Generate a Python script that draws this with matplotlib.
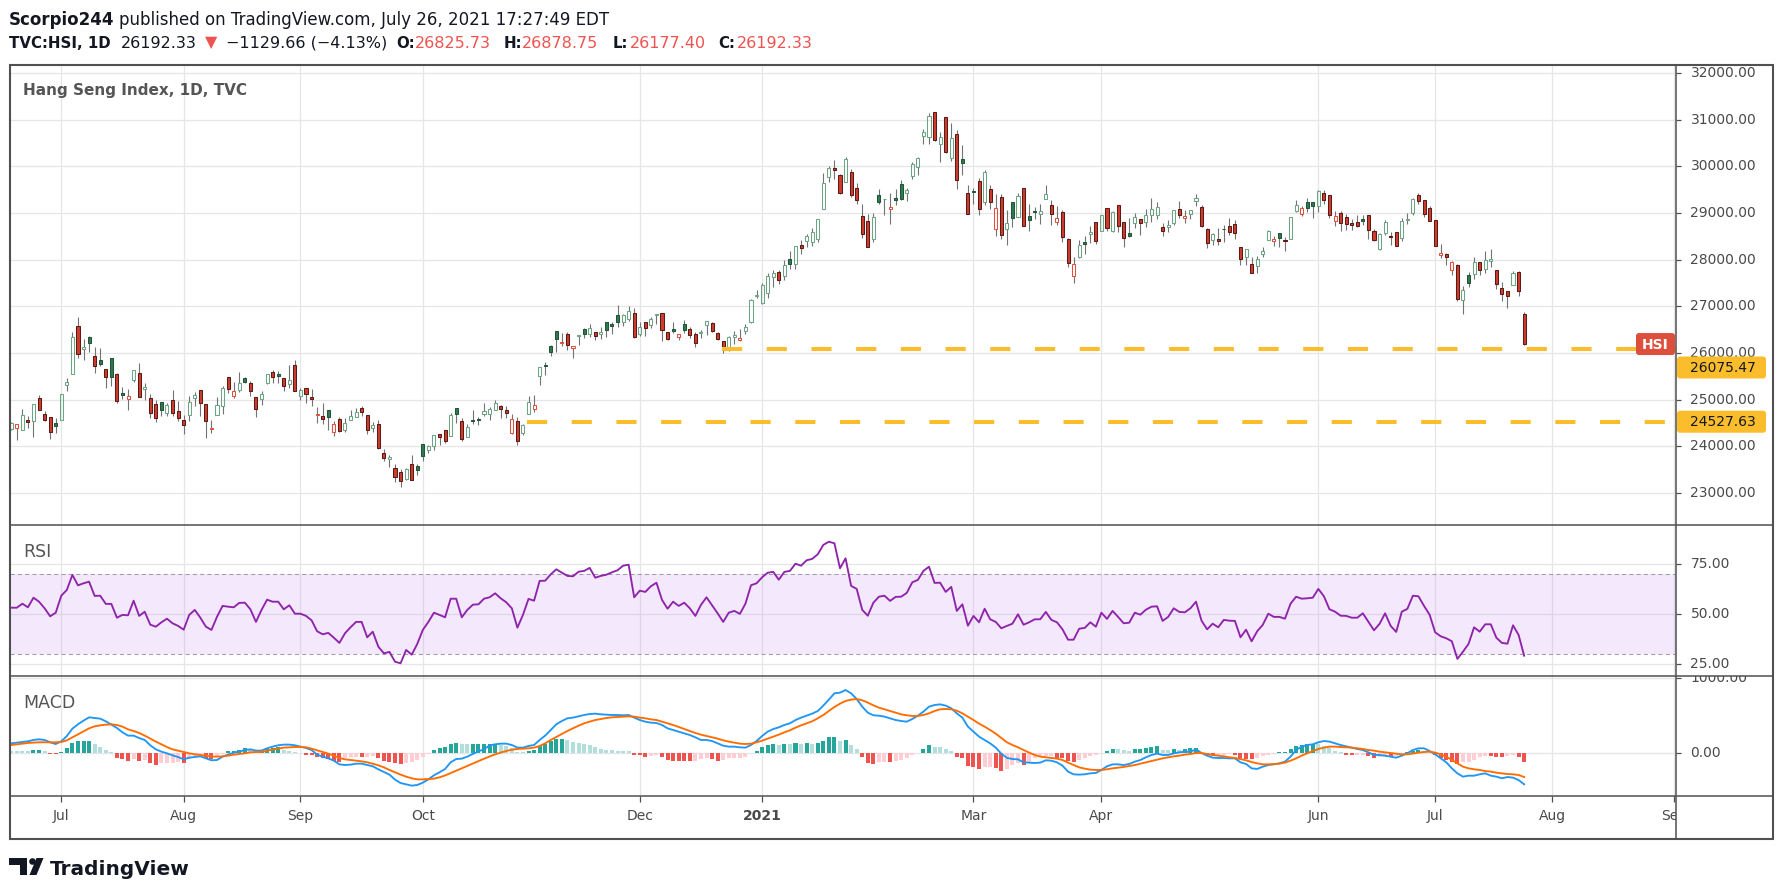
import matplotlib
matplotlib.use('Agg')
import matplotlib.pyplot as plt
import numpy as np
from matplotlib.patches import FancyBboxPatch, Polygon, Circle, Rectangle

plt.rcParams['font.family'] = ['DejaVu Sans']

# ---- daily candles, Hang Seng Index ----
open_ = [24380, 24394, 24359, 24558, 24544, 25040, 24700, 24636, 24494, 24572,
         25310, 25545, 26574, 26077, 26347, 25935, 25850, 25658, 25892, 25552,
         25147, 25019, 25417, 25573, 25225, 25040, 24913, 24955, 24721, 24998,
         24764, 24572, 24678, 25040, 25211, 24913, 24380, 24678, 24870, 25488,
         25083, 25204, 25466, 25360, 25062, 25019, 25353, 25594, 25540, 25466,
         25339, 25743, 25083, 25253, 25048, 24680, 24643, 24785, 24316, 24593,
         24359, 24572, 24636, 24828, 24678, 24402, 24487, 23848, 23720, 23542,
         23443, 23308, 23613, 23571, 24061, 23912, 24011, 24274, 24359, 24224,
         24827, 24551, 24210, 24572, 24593, 24693, 24700, 24785, 24856, 24785,
         24288, 24551, 24288, 24700, 24806, 25502, 25743, 26148, 26468, 26220,
         26404, 26098, 26361, 26510, 26418, 26446, 26397, 26659, 26617, 26808,
         26673, 26737, 26851, 26418, 26659, 26610, 26808, 26851, 26446, 26510,
         26340, 26617, 26510, 26404, 26432, 26595, 26638, 26425, 26255, 26063,
         26333, 26269, 26482, 26659, 27223, 27071, 27280, 27620, 27734, 27642,
         28018, 27897, 28309, 28408, 28387, 28451, 29090, 29772, 29956, 29807,
         29665, 29885, 29545, 28934, 28827, 28451, 29381, 29296, 29090, 29317,
         29630, 29431, 29793, 29992, 30645, 30624, 31163, 30468, 31057, 30176,
         30695, 30162, 29424, 29470, 29694, 29239, 29523, 28664, 29353, 28664,
         29246, 28905, 29545, 28927, 29040, 28984, 29310, 29168, 28799, 29019,
         28437, 27642, 28053, 28380, 28558, 28806, 28607, 29097, 28607, 29161,
         28799, 28565, 28792, 28880, 28808, 28959, 28959, 28708, 28700, 28787,
         29095, 28890, 28980, 29261, 29138, 28665, 28420, 28435, 28660, 28729,
         28772, 28277, 28054, 27911, 27860, 28119, 28420, 28399, 28578, 28420,
         28442, 29038, 28973, 29225, 29225, 29153, 29418, 29375, 28830, 28995,
         28909, 28779, 28801, 28865, 28952, 28607, 28227, 28571, 28500, 28586,
         28463, 28851, 29002, 29375, 29289, 29117, 28858, 28097, 28126, 27774,
         27896, 27128, 27674, 27688, 27954, 27796, 27975, 27781, 27401, 27329,
         27451, 27738, 26825.73]
high = [24520, 24487, 24792, 24643, 24913, 25090, 24764, 24636, 24615, 25126,
        25466, 26453, 26773, 26297, 26368, 26127, 26113, 25658, 25892, 25573,
        25282, 25239, 25637, 25793, 25367, 25112, 24984, 24955, 24920, 25218,
        24962, 24664, 25076, 25161, 25211, 24913, 24558, 25055, 25289, 25488,
        25381, 25601, 25481, 25396, 25062, 25190, 25552, 25630, 25623, 25466,
        25751, 25857, 25260, 25253, 25239, 24835, 24920, 24785, 24536, 24636,
        24600, 24771, 24828, 24856, 24678, 24515, 24558, 23940, 23812, 23613,
        23507, 23542, 23812, 23613, 24061, 24025, 24252, 24274, 24359, 24721,
        24827, 24607, 24472, 24785, 24624, 24920, 24842, 24984, 24891, 24856,
        24700, 24621, 24487, 25069, 25111, 25701, 25814, 26169, 26468, 26432,
        26453, 26148, 26382, 26546, 26624, 26460, 26553, 26659, 26659, 27028,
        26830, 27007, 26964, 26666, 26659, 26766, 26830, 26851, 26446, 26659,
        26404, 26709, 26553, 26446, 26489, 26695, 26659, 26460, 26255, 26354,
        26468, 26510, 26631, 27149, 27358, 27510, 27710, 27784, 27784, 27983,
        28196, 28302, 28430, 28550, 28678, 28863, 29850, 29999, 30127, 29843,
        30191, 29949, 29637, 29189, 28976, 28998, 29509, 29310, 29424, 29509,
        29701, 29530, 30084, 30191, 30794, 31149, 31163, 30730, 31057, 30936,
        30787, 30453, 29594, 29544, 29757, 29914, 29608, 29410, 29403, 29062,
        29246, 29424, 29545, 29189, 29126, 29189, 29594, 29275, 29140, 29069,
        28465, 28061, 28423, 28508, 28727, 28806, 28948, 29097, 29040, 29161,
        28806, 28891, 28998, 28880, 29081, 29318, 29239, 28779, 28851, 29074,
        29253, 29059, 29074, 29404, 29167, 28686, 28578, 28686, 28751, 28887,
        28844, 28277, 28234, 28061, 28069, 28277, 28643, 28514, 28578, 28492,
        28923, 29275, 29160, 29332, 29239, 29483, 29490, 29375, 29038, 29038,
        28988, 28865, 28952, 28952, 28952, 28650, 28578, 28844, 28586, 28586,
        28901, 29002, 29325, 29418, 29289, 29153, 28858, 28341, 28148, 27982,
        27911, 27444, 27746, 28047, 27954, 28176, 28219, 27781, 27523, 27329,
        27760, 27760, 26878.75]
low = [24350, 24139, 24352, 24394, 24203, 24778, 24544, 24160, 24288, 24572,
       25182, 25545, 25900, 25843, 26013, 25566, 25715, 25247, 25289, 24920,
       25005, 24778, 25374, 25062, 24991, 24607, 24522, 24650, 24643, 24643,
       24544, 24267, 24544, 24856, 24650, 24181, 24288, 24678, 24693, 25140,
       25033, 25161, 25367, 25069, 24629, 24884, 25339, 25360, 25367, 25182,
       25253, 25190, 24991, 24927, 24863, 24501, 24480, 24352, 24224, 24316,
       24309, 24572, 24636, 24657, 24274, 24309, 23947, 23691, 23564, 23244,
       23138, 23273, 23273, 23393, 23691, 23862, 23926, 24032, 24075, 24224,
       24508, 24117, 24210, 24487, 24458, 24650, 24565, 24785, 24614, 24607,
       24259, 24032, 24238, 24700, 24735, 25325, 25537, 25942, 26027, 26155,
       26056, 25900, 26176, 26326, 26333, 26283, 26304, 26347, 26397, 26567,
       26588, 26695, 26318, 26354, 26375, 26546, 26624, 26247, 26269, 26432,
       26269, 26439, 26311, 26120, 26311, 26382, 26460, 26269, 25992, 26049,
       26198, 26247, 26418, 26645, 27180, 27050, 27170, 27414, 27471, 27556,
       27791, 27791, 28132, 28281, 28295, 28387, 29090, 29665, 29729, 29417,
       29665, 29346, 29197, 28472, 28266, 28387, 29189, 28962, 28764, 29168,
       29289, 29261, 29729, 29807, 30468, 30468, 30553, 30091, 30290, 30119,
       29516, 29814, 28984, 29189, 28962, 29175, 29090, 28508, 28437, 28323,
       28707, 28905, 28714, 28622, 28877, 28771, 29310, 28735, 28735, 28387,
       27848, 27507, 28039, 28132, 28366, 28345, 28607, 28614, 28593, 28600,
       28281, 28479, 28678, 28528, 28700, 28808, 28873, 28507, 28593, 28744,
       28887, 28787, 28873, 29153, 28708, 28248, 28313, 28313, 28377, 28528,
       28442, 27896, 27882, 27710, 27710, 28054, 28413, 28284, 28262, 28184,
       28442, 29024, 28937, 29024, 28894, 29024, 29196, 28902, 28722, 28614,
       28643, 28643, 28708, 28751, 28442, 28399, 28205, 28528, 28313, 28291,
       28399, 28765, 28959, 29189, 28916, 28830, 28291, 28026, 27896, 27681,
       27106, 26841, 27408, 27595, 27681, 27724, 27853, 27379, 27106, 26956,
       27451, 27214, 26177.40]
close = [24490, 24470, 24664, 24522, 24913, 24778, 24572, 24309, 24437, 25126,
         25381, 26340, 25970, 26127, 26205, 25722, 25758, 25481, 25488, 24969,
         25097, 25069, 25637, 25062, 25282, 24721, 24615, 24785, 24891, 24721,
         24615, 24465, 24955, 25104, 24934, 24551, 24400, 24891, 25253, 25232,
         25190, 25360, 25381, 25190, 24806, 25126, 25552, 25488, 25500, 25289,
         25424, 25190, 25200, 25126, 25019, 24700, 24593, 24636, 24487, 24330,
         24508, 24657, 24742, 24730, 24359, 24465, 23961, 23741, 23762, 23337,
         23251, 23507, 23287, 23486, 23784, 23997, 24252, 24203, 24125, 24671,
         24690, 24160, 24408, 24544, 24565, 24764, 24806, 24934, 24806, 24721,
         24593, 24125, 24465, 24955, 24891, 25701, 25715, 26013, 26290, 26235,
         26169, 26148, 26382, 26397, 26531, 26361, 26453, 26489, 26574, 26659,
         26808, 26894, 26333, 26553, 26531, 26723, 26830, 26503, 26290, 26482,
         26404, 26503, 26382, 26205, 26453, 26680, 26482, 26290, 26127, 26340,
         26382, 26319, 26553, 27128, 27251, 27465, 27660, 27720, 27556, 27890,
         27911, 28288, 28245, 28508, 28593, 28863, 29637, 29956, 29921, 29431,
         30148, 29388, 29289, 28558, 28281, 28905, 29239, 29310, 29126, 29281,
         29303, 29488, 30041, 30169, 30737, 31078, 30574, 30638, 30304, 30610,
         29708, 30070, 28984, 29458, 29090, 29871, 29246, 29104, 28536, 28785,
         28898, 29374, 28728, 28841, 29030, 29040, 29403, 28984, 28891, 28494,
         27919, 27911, 28320, 28340, 28593, 28394, 28948, 28671, 29019, 28714,
         28458, 28501, 28905, 28787, 28966, 29095, 29138, 28614, 28751, 29074,
         28960, 28945, 29074, 29311, 28722, 28356, 28557, 28399, 28650, 28593,
         28580, 28011, 28234, 27710, 28025, 28191, 28607, 28449, 28460, 28410,
         28909, 29167, 29100, 29115, 29153, 29462, 29282, 28959, 28930, 28787,
         28765, 28744, 28722, 28830, 28636, 28420, 28557, 28801, 28490, 28291,
         28823, 28880, 29297, 29261, 28980, 28830, 28291, 28148, 28054, 27954,
         27150, 27351, 27494, 27954, 27774, 27990, 28010, 27473, 27258, 27214,
         27724, 27321.99, 26192.33]

# ---- RSI (14) ----
rsi = [53.3, 53.3, 55.3, 53.5, 58.3, 56.3, 53.0, 49.0, 50.8, 59.3,
       62.2, 69.7, 64.5, 65.5, 66.3, 59.2, 59.3, 55.2, 55.2, 48.3,
       49.7, 49.5, 56.8, 49.2, 51.3, 44.8, 43.8, 46.0, 47.8, 45.5,
       44.2, 42.3, 49.7, 52.2, 48.3, 43.8, 42.2, 48.8, 54.2, 53.8,
       53.5, 55.7, 55.8, 52.5, 46.2, 52.2, 57.3, 56.3, 56.3, 52.5,
       54.5, 50.3, 50.3, 49.2, 47.0, 41.5, 40.0, 40.7, 38.3, 35.7,
       40.5, 43.5, 46.2, 46.2, 38.5, 41.3, 33.8, 30.5, 31.2, 26.3,
       25.5, 32.2, 29.8, 35.2, 42.2, 46.2, 50.8, 49.7, 48.5, 57.8,
       57.8, 48.5, 52.2, 54.8, 55.0, 57.8, 58.5, 60.5, 58.0,
       56.0, 53.0, 43.3, 49.7, 57.7, 56.8, 66.7, 66.8, 70.0, 72.5,
       70.8, 69.2, 69.0, 71.3, 71.7, 73.2, 68.3, 69.2, 69.8, 71.0,
       72.0, 74.3, 74.8, 58.5, 61.8, 61.2, 64.0, 65.8, 57.2, 52.8,
       56.3, 54.2, 55.8, 53.0, 49.2, 54.7, 58.5, 54.5, 50.5, 46.2,
       50.8, 51.7, 50.2, 55.3, 64.5, 65.5, 68.5, 70.8, 71.2, 67.3,
       71.2, 71.7, 75.3, 74.3, 77.0, 77.7, 80.0, 84.7, 86.3, 85.5,
       73.0, 78.0, 64.2, 62.7, 52.2, 49.3, 55.8, 58.8, 59.3, 56.7,
       58.7, 58.8, 60.7, 66.0, 67.2, 71.7, 73.8, 65.7, 65.8, 61.2,
       63.7, 51.7, 55.0, 44.3, 49.2, 46.0, 52.8, 47.5, 46.2,
       43.0, 44.2, 45.3, 50.0, 44.8, 46.0, 47.5, 47.5, 51.2, 47.2,
       46.0, 42.5, 37.3, 37.3, 42.8, 43.2, 46.0, 43.8, 50.8, 47.7,
       51.7, 48.7, 45.5, 45.8, 50.8, 49.8, 52.3, 53.8, 54.0, 46.7,
       48.7, 53.0, 51.2, 51.0, 53.0, 56.3, 46.8, 42.5, 45.3, 43.5,
       47.2, 46.8, 46.7, 38.5, 42.3, 36.5, 41.5, 44.7, 50.3, 48.7,
       48.7, 47.8, 55.3, 58.8, 57.8, 58.0, 58.3, 62.7, 59.0, 52.5,
       51.3, 49.3, 49.2, 48.3, 48.3, 50.5, 46.3, 42.0, 45.2, 50.5,
       44.2, 41.2, 51.3, 52.7, 59.3, 59.0, 54.2, 49.8, 41.0, 39.0,
       38.0, 36.5, 27.7, 31.3, 35.2, 43.5, 41.3, 45.0, 45.0, 38.3,
       35.7, 35.3, 44.5, 39.7, 29.3]

# ---- MACD (12, 26, 9) ----
macd = [133, 142, 151, 160, 178, 187, 178, 147, 124, 160,
        231, 329, 387, 436, 480, 471, 462, 427, 382, 338,
        280, 236, 236, 204, 178, 107, 53, 22, 0, -27,
        -49, -80, -58, -49, -40, -67, -93, -89, -44, -18,
        9, 22, 44, 53, 36, 36, 67, 89, 107, 116,
        116, 107, 89, 71, 44, -18, -44, -67, -98, -147,
        -156, -151, -138, -138, -156, -173, -213, -249, -284, -351,
        -396, -413, -431, -422, -391, -347, -293, -253, -209, -120,
        -76, -71, -44, -9, 27, 53, 105, 120, 129,
        129, 111, 76, 76, 98, 111, 178, 236, 311, 387,
        431, 467, 476, 493, 511, 524, 529, 520, 516, 511,
        511, 507, 511, 476, 444, 422, 409, 404, 378, 333,
        311, 289, 267, 244, 213, 178, 178, 164, 133, 102,
        89, 89, 80, 76, 111, 164, 231, 289, 324, 347,
        378, 400, 444, 476, 502, 529, 564, 636, 716, 800,
        809, 844, 800, 724, 622, 542, 507, 502, 489, 467,
        444, 431, 422, 458, 502, 556, 622, 644, 653, 636,
        600, 533, 476, 356, 289, 222, 178, 133, 76,
        -5, -60, -76, -80, -120, -124, -129, -124, -93, -98,
        -120, -164, -244, -280, -284, -280, -267, -262, -222, -173,
        -147, -147, -156, -142, -111, -89, -53, -22, -4, -22,
        -22, 0, 13, 22, 22, 53, 4, -31, -58, -62,
        -62, -67, -67, -120, -142, -200, -209, -178, -156, -147,
        -133, -111, -44, 44, 89, 111, 120, 147, 164, 156,
        133, 111, 93, 76, 58, 44, 13, -22, -22, -31,
        -44, -58, -31, 0, 44, 67, 67, 31, -13, -67,
        -120, -200, -267, -311, -298, -298, -280, -267, -298, -311,
        -333, -316, -324, -356, -413]
signal = [111, 120, 129, 138, 142, 147, 147, 147, 147, 151,
          173, 213, 253, 293, 333, 360, 373, 382, 387, 378,
          356, 320, 298, 271, 236, 196, 156, 120, 84, 53,
          36, 18, 0, -13, -22, -31, -44, -44, -40, -31,
          -18, -9, 0, 13, 18, 18, 36, 49, 62, 76,
          80, 84, 84, 80, 62, 40, 18, -4, -31, -62,
          -80, -89, -98, -107, -120, -138, -160, -187, -222, -253,
          -284, -311, -333, -347, -347, -342, -338, -320, -295, -264,
          -232, -200, -168, -135, -103, -72, -42, -14, 10,
          31, 49, 58, 62, 67, 76, 98, 133, 178, 218,
          258, 298, 333, 369, 400, 422, 444, 458, 471, 480,
          484, 489, 493, 489, 476, 467, 453, 444, 422, 400,
          378, 351, 324, 298, 271, 249, 231, 213, 196, 173,
          156, 142, 129, 124, 129, 147, 169, 196, 222, 249,
          280, 307, 342, 373, 400, 427, 467, 511, 564, 618,
          662, 698, 716, 724, 707, 676, 640, 609, 587, 564,
          542, 520, 507, 498, 498, 511, 533, 564, 587, 591,
          587, 569, 533, 489, 444, 396, 356, 311, 262,
          205, 147, 111, 80, 44, 9, -22, -44, -53, -62,
          -71, -89, -124, -156, -187, -204, -218, -222, -222, -213,
          -200, -191, -182, -169, -156, -138, -120, -102, -84, -67,
          -53, -40, -31, -18, -9, 4, 4, -9, -22, -31,
          -40, -53, -62, -76, -93, -116, -133, -147, -147, -142,
          -138, -124, -98, -67, -31, 0, 31, 58, 76, 89,
          89, 84, 80, 76, 67, 58, 44, 36, 22, 13,
          4, -4, -13, -13, -4, 9, 18, 22, 9, -13,
          -44, -89, -133, -178, -200, -213, -222, -236, -244, -258,
          -267, -276, -280, -289, -316]
hist = [31, 30, 29, 28, 44, 46, 27, -9, -13, 13,
        67, 142, 160, 164, 166, 120, 89, 44, 18, -58,
        -80, -98, -76, -98, -93, -133, -156, -133, -131, -129,
        -120, -128, -76, -44, -31, -67, -76, -44, -9, 27,
        36, 49, 67, 44, 27, 36, 53, 67, 80, 44,
        36, 18, 4, -18, -22, -44, -67, -76, -102, -111,
        -67, -53, -44, -55, -48, -40, -67, -98, -116, -133,
        -142, -133, -111, -89, -44, -5, 50, 67, 80, 120,
        142, 120, 118, 120, 121, 122, 124, 126, 111, 98,
        67, 22, 18, 31, 44, 102, 129, 164, 187, 191,
        178, 147, 133, 124, 111, 84, 58, 44, 40, 31,
        30, 29, -18, -22, -53, -31, -22, -53, -89, -98,
        -100, -102, -104, -100, -70, -68, -75, -98, -90, -67,
        -66, -64, -45, 9, 36, 84, 111, 124, 111, 124,
        120, 138, 124, 133, 124, 138, 169, 218, 220, 164,
        178, 111, 58, -44, -124, -138, -120, -118, -122, -102,
        -89, -67, -22, 4, 58, 111, 89, 88, 58, 31,
        -44, -67, -164, -178, -213, -187, -186, -190,
        -231, -213, -156, -133, -156, -120, -67, -53, -31, -30,
        -58, -67, -102, -111, -93, -58, -31, -22, 9, 27,
        58, 53, 40, 31, 58, 60, 76, 89, 98, 49,
        40, 58, 44, 58, 67, 76, -4, -22, -40, -36,
        -22, -13, -27, -67, -71, -80, -67, -40, -22, -4,
        13, 22, 58, 102, 111, 120, 129, 124, 98, 67,
        31, 18, -18, -22, -21, -20, -40, -58, -53, -44,
        -49, -40, -13, 22, 36, 44, 31, 9, -22, -58,
        -89, -120, -142, -120, -118, -89, -53, -31, -33, -53,
        -55, -31, -22, -53, -111]

# time axis (bar index of first session of the month)
month_pos = [9, 31, 52, 74, 113, 135, 173, 196, 235, 256, 277, 299]
month_lbl = ['Jul', 'Aug', 'Sep', 'Oct', 'Dec', '2021', 'Mar', 'Apr', 'Jun', 'Jul', 'Aug', 'Sep']

# horizontal support levels and the bar where each drawing starts
levels = [26075.47, 24527.63]
level_start = [127.7, 92.8]

price_ticks = [23000, 24000, 25000, 26000, 27000, 28000, 29000, 30000, 31000, 32000]
rsi_ticks = [25, 50, 75]
macd_ticks = [0, 1000]

W, H = 1783, 894
GRID = '#e6e6e6'
FRAME = '#505050'
TXT = '#4a4a4a'
DARK = '#131722'
RED = '#ef5350'
YEL = '#fbbd2c'

o = np.array(open_, float)
hi = np.array(high, float)
lo = np.array(low, float)
c = np.array(close, float)
x = np.arange(len(c))
XLIM = (-0.22, 299.3)

fig = plt.figure(figsize=(W / 100, H / 100), dpi=100)
fig.patch.set_facecolor('white')


def box(x0, y0, x1, y1):
    return [x0 / W, 1 - y1 / H, (x1 - x0) / W, (y1 - y0) / H]


ax = fig.add_axes(box(10, 65, 1676, 525))
ax_rsi = fig.add_axes(box(10, 525, 1676, 676))
ax_macd = fig.add_axes(box(10, 676, 1676, 796))
ax_time = fig.add_axes(box(10, 796, 1676, 839))
sc_main = fig.add_axes(box(1676, 65, 1773, 525))
sc_rsi = fig.add_axes(box(1676, 525, 1773, 676))
sc_macd = fig.add_axes(box(1676, 676, 1773, 796))

for a in (ax, ax_rsi, ax_macd, ax_time):
    a.set_xlim(*XLIM)
    a.set_axis_off()
ax.set_ylim(22315, 32171)
ax_rsi.set_ylim(19.15, 94.65)
ax_macd.set_ylim(-569, 1031)
ax_time.set_ylim(43, 0)

# grid
for a in (ax, ax_rsi, ax_macd):
    for t in month_pos:
        a.axvline(t, color=GRID, lw=0.9, zorder=0)
for v in price_ticks:
    ax.axhline(v, color=GRID, lw=0.9, zorder=0)
for v in rsi_ticks:
    ax_rsi.axhline(v, color=GRID, lw=0.9, zorder=0)
for v in macd_ticks:
    ax_macd.axhline(v, color=GRID, lw=0.9, zorder=0)

# hollow candles: filled when close < open, colour by change vs previous close
prev = np.concatenate([[c[0]], c[:-1]])
up = c >= prev
filled = c < o
face = []
edge = []
for u, f in zip(up, filled):
    if u:
        face.append('#2f7a52' if f else 'none')
        edge.append('#225437' if f else '#6ba583')
    else:
        face.append('#cc3d2f' if f else 'none')
        edge.append('#5b1a13' if f else '#e0503c')
top = np.maximum(o, c)
bot = np.minimum(o, c)
ax.vlines(x, top, hi, color='#737375', lw=0.8, zorder=2)
ax.vlines(x, lo, bot, color='#737375', lw=0.8, zorder=2)
ax.bar(x, top - bot, bottom=bot, width=0.55, color=face, edgecolor=edge,
       linewidth=0.75, zorder=3)

# support lines
for lvl, s in zip(levels, level_start):
    ax.plot([s, XLIM[1]], [lvl, lvl], color=YEL, lw=2.9, ls=(0, (5, 6.1)),
            solid_capstyle='butt', zorder=4)

# RSI
ax_rsi.axhspan(30, 70, color='#b868f5', alpha=0.15, lw=0, zorder=1)
for v in (30, 70):
    ax_rsi.axhline(v, color='#a39aab', lw=0.75, ls=(0, (4, 3)), zorder=1.5)
ax_rsi.plot(x, rsi, color='#8e24aa', lw=1.35, zorder=3)

# MACD
h = np.array(hist, float)
hcol = []
for i in range(len(h)):
    p = h[i - 1] if i > 0 else h[i]
    if h[i] >= 0:
        hcol.append('#26a69a' if h[i] > p else '#b2dfdb')
    else:
        hcol.append('#ffcdd2' if h[i] > p else '#ef5350')
ax_macd.bar(x, h, width=0.72, color=hcol, zorder=2)
ax_macd.plot(x, macd, color='#2196f3', lw=1.35, zorder=3)
ax_macd.plot(x, signal, color='#ff6d00', lw=1.35, zorder=3)

# time axis
ax_time.vlines(month_pos, 0, 6, color=FRAME, lw=0.9)
for t, lab in zip(month_pos, month_lbl):
    ax_time.text(t, 20, lab, ha='center', va='center', fontsize=10, color=TXT,
                 fontweight='bold' if lab == '2021' else 'normal', clip_on=True)

# price scales
def scale(sa, src, ticks, fmt):
    sa.set_xlim(0, 97)
    sa.set_ylim(src.get_ylim())
    sa.set_axis_off()
    sa.hlines(ticks, 0, 5, color=FRAME, lw=0.9)
    for v in ticks:
        sa.text(14.5, v, fmt.format(v), ha='left', va='center', fontsize=10,
                color=TXT, clip_on=True)


scale(sc_main, ax, price_ticks, '{:.2f}')
scale(sc_rsi, ax_rsi, rsi_ticks, '{:.2f}')
scale(sc_macd, ax_macd, macd_ticks, '{:.2f}')

# overlay in pixel units
ov = fig.add_axes([0, 0, 1, 1], zorder=10)
ov.set_xlim(0, W)
ov.set_ylim(H, 0)
ov.set_axis_off()
renderer = fig.canvas.get_renderer()


def ypx(a, v):
    return H - a.transData.transform((0, v))[1]


# frame
ov.add_patch(Rectangle((10, 65), 1763, 774, fill=False, ec=FRAME, lw=1.5))
for yy in (525, 676, 796):
    ov.plot([10, 1773], [yy, yy], color=FRAME, lw=1.1)
ov.plot([1676, 1676], [65, 839], color=FRAME, lw=1.1)

# level labels on the price scale (upper one pushed down by the HSI label)
shift = [18, 0]
for lvl, d in zip(levels, shift):
    yc = ypx(ax, lvl) + d
    ov.add_patch(FancyBboxPatch((1677, yc - 11), 89, 22,
                                boxstyle='round,pad=0,rounding_size=3',
                                fc=YEL, ec='none', zorder=5))
    ov.text(1690.5, yc + 0.5, '{:.2f}'.format(lvl), ha='left', va='center',
            fontsize=10, color=DARK, zorder=6)

# symbol label
yc = ypx(ax, c[-1])
ov.add_patch(FancyBboxPatch((1636, yc - 11), 39, 22,
                            boxstyle='round,pad=0,rounding_size=3',
                            fc='#dd4f3d', ec='none', zorder=5))
ov.text(1655.5, yc + 0.5, 'HSI', ha='center', va='center', fontsize=10,
        color='white', fontweight='bold', zorder=6)

# pane titles
ov.text(23, 95, 'Hang Seng Index, 1D, TVC', fontsize=11, fontweight='bold',
        color='#555555', va='baseline')
ov.text(23, 557, 'RSI', fontsize=12.5, color='#555555', va='baseline')
ov.text(23, 708, 'MACD', fontsize=12.5, color='#555555', va='baseline')

# header line 1
t1 = ov.text(8.6, 25, 'Scorpio244', fontsize=12, fontweight='bold', color=DARK,
             va='baseline')
x_next = 8.6 + t1.get_window_extent(renderer).width + 5
ov.text(x_next, 25, 'published on TradingView.com, July 26, 2021 17:27:49 EDT',
        fontsize=12, color=DARK, va='baseline')

# header line 2
chg = c[-1] - c[-2]
pct = chg / c[-2] * 100
runs = [
    (8.6, 'TVC:HSI, 1D', 'bold', DARK),
    (120.5, '{:.2f}'.format(c[-1]), 'normal', DARK),
    (205, '\u25bc', 'normal', RED),
    (225.6, '\u2212{:.2f} (\u2212{:.2f}%)'.format(abs(chg), abs(pct)), 'normal', DARK),
    (396, 'O:', 'bold', DARK),
    (414.5, '{:.2f}'.format(o[-1]), 'normal', RED),
    (504, 'H:', 'bold', DARK),
    (522, '{:.2f}'.format(hi[-1]), 'normal', RED),
    (612.5, 'L:', 'bold', DARK),
    (629.7, '{:.2f}'.format(lo[-1]), 'normal', RED),
    (718.7, 'C:', 'bold', DARK),
    (736.5, '{:.2f}'.format(c[-1]), 'normal', RED),
]
for xx, s, wgt, col in runs:
    ov.text(xx, 47.5, s, fontsize=10.8 if wgt == 'bold' else 11.5,
            fontweight=wgt, color=col, va='baseline')

# TradingView logo
ov.add_patch(Rectangle((9.3, 858), 18, 6.5, fc=DARK, ec='none'))
ov.add_patch(Rectangle((20.5, 858), 7, 17, fc=DARK, ec='none'))
ov.add_patch(Circle((32.5, 861.5), 3.3, fc=DARK, ec='none'))
ov.add_patch(Polygon([(36.5, 858), (43.5, 858), (36.5, 875), (29.5, 875)],
                     closed=True, fc=DARK, ec='none'))
ov.text(50, 875, 'TradingView', fontsize=14.5, fontweight='bold', color=DARK,
        va='baseline')

fig.savefig('out.png', dpi=100)
